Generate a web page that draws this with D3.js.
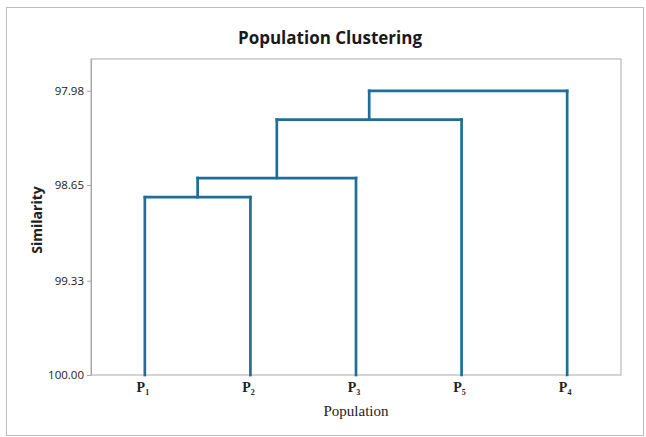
<!DOCTYPE html>
<html>
<head>
<meta charset="utf-8">
<script src="https://cdn.jsdelivr.net/npm/d3@7"></script>
<style>
  body { margin: 0; background: #fff; }
</style>
</head>
<body>
<div id="chartArea"></div>
<script>
// leaves in dendrogram order
const leaves = ["1", "2", "3", "5", "4"];
// merges: [left, right, similarity]
const mergeLeft = ["1", "12", "123", "1235"];
const mergeRight = ["2", "3", "5", "4"];
const mergeSim = [98.736, 98.60, 98.185, 97.98];
const yTicks = [97.98, 98.65, 99.33, 100.00];

const width = 646, height = 437;
const plotLeft = 91, plotRight = 621, plotTop = 59, plotBottom = 375;
const lineColor = "#1f6e99";

const svg = d3.select("#chartArea").append("svg")
  .attr("width", width)
  .attr("height", height);

// outer frame
svg.append("rect")
  .attr("x", 6.5).attr("y", 7.5)
  .attr("width", 637).attr("height", 428)
  .attr("fill", "none")
  .attr("stroke", "#bdbdbd");

const x = d3.scalePoint().domain(leaves).range([plotLeft, plotRight]).padding(0.51);
const y = d3.scaleLinear().domain([100, 97.754]).range([plotBottom, plotTop]);

// node positions: leaves at similarity 100
const pos = {};
leaves.forEach(l => pos[l] = { x: x(l), v: 100 });

const segs = [];
mergeLeft.forEach((a, i) => {
  const b = mergeRight[i], v = mergeSim[i];
  const A = pos[a], B = pos[b];
  segs.push([A.x, A.v, A.x, v]);
  segs.push([B.x, B.v, B.x, v]);
  segs.push([A.x, v, B.x, v]);
  pos[a + b] = { x: (A.x + B.x) / 2, v: v };
});

// plot frame
svg.append("rect")
  .attr("x", plotLeft).attr("y", plotTop)
  .attr("width", plotRight - plotLeft).attr("height", plotBottom - plotTop)
  .attr("fill", "none")
  .attr("stroke", "#a9a9a9");

svg.append("g").selectAll("path")
  .data(segs)
  .enter()
  .append("path")
    .attr("d", d => `M${d[0]},${y(d[1])}L${d[2]},${y(d[3])}`)
    .attr("stroke", lineColor)
    .attr("stroke-width", 2.7)
    .attr("stroke-linecap", "square")
    .attr("fill", "none");

// y axis
const yAxis = svg.append("g")
  .attr("transform", `translate(${plotLeft},0)`)
  .call(d3.axisLeft(y).tickValues(yTicks).tickFormat(d3.format(".2f"))
    .tickSize(4).tickSizeOuter(0).tickPadding(3));
yAxis.select(".domain").attr("stroke", "#a9a9a9");
yAxis.selectAll(".tick line").attr("stroke", "#a9a9a9");
yAxis.selectAll("text")
  .attr("font-family", "'Open Sans', sans-serif")
  .attr("font-size", "11.5px")
  .attr("fill", "#1a1a1a");

// x labels with subscripts
const xl = svg.append("g").selectAll("text")
  .data(leaves)
  .enter()
  .append("text")
    .attr("x", d => x(d) - 2)
    .attr("y", 392)
    .attr("text-anchor", "middle")
    .attr("font-family", "'Liberation Serif', serif")
    .attr("font-weight", "bold")
    .attr("font-size", "14px")
    .attr("fill", "#222");
xl.append("tspan").text("P");
xl.append("tspan").attr("font-size", "8px").attr("dy", 3).text(d => d);

svg.append("text")
  .attr("x", 356).attr("y", 416)
  .attr("text-anchor", "middle")
  .attr("font-family", "'Liberation Serif', serif")
  .attr("font-size", "15px")
  .attr("fill", "#222")
  .text("Population");

svg.append("text")
  .attr("transform", "translate(42,220) rotate(-90)")
  .attr("text-anchor", "middle")
  .attr("font-family", "'Open Sans', sans-serif")
  .attr("font-weight", "bold")
  .attr("font-size", "14px")
  .attr("fill", "#222")
  .text("Similarity");

svg.append("text")
  .attr("x", 330).attr("y", 44)
  .attr("text-anchor", "middle")
  .attr("font-family", "'Open Sans', sans-serif")
  .attr("font-weight", "bold")
  .attr("font-size", "17px")
  .attr("fill", "#1a1a1a")
  .text("Population Clustering");
</script>
</body>
</html>
